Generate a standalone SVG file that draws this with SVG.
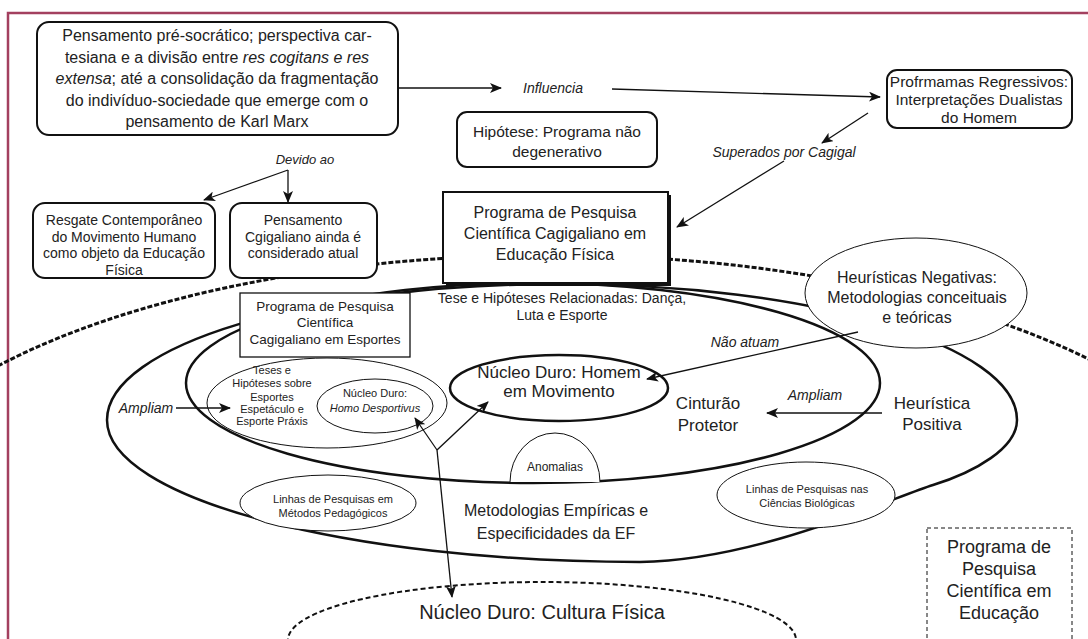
<svg xmlns="http://www.w3.org/2000/svg" width="1088" height="639" viewBox="0 0 1088 639">
<defs>
<marker id="ah" viewBox="0 0 12 10" refX="11" refY="5" markerWidth="12" markerHeight="10" orient="auto" markerUnits="userSpaceOnUse"><path d="M0,0 L12,5 L0,10 L3,5 z" fill="#111"/></marker>
<style>
text{font-family:"Liberation Sans",Arial,sans-serif;fill:#222;text-anchor:middle}
.it{font-style:italic}
.rb{fill:#fff;stroke:#111;stroke-width:2}
.thin{fill:#fff;stroke:#111;stroke-width:1}
.thick{fill:none;stroke:#111;stroke-width:2.5}
.con{fill:none;stroke:#111;stroke-width:1.3}
</style>
</defs>
<rect width="1088" height="639" fill="#fff"/>
<path d="M8,639 V13 H1088" fill="none" stroke="#a3405f" stroke-width="2.5"/>

<g id="dashed-arc"><ellipse cx="550" cy="543" rx="700" ry="288" fill="none" stroke="#111" stroke-width="3" stroke-dasharray="5 2"/></g>

<g id="cultura-fisica"><ellipse cx="542" cy="640" rx="254" ry="58" fill="none" stroke="#111" stroke-width="2" stroke-dasharray="5 3"/>
<text x="542" y="619" font-size="20">Núcleo Duro: Cultura Física</text></g>

<g id="metodologias-empiricas">
<path class="thick" d="M107,420 C107,345 310,284 560,284 C812,284 1017,345 1017,420 C1017,448 975,472 933,485 C891,498 760,560 640,562 C346,562 107,498 107,420 Z"/>
<text x="556" y="516" font-size="16">Metodologias Empíricas e</text>
<text x="556" y="539" font-size="16">Especificidades da EF</text>
</g>

<g id="cinturao-protetor">
<ellipse class="thick" cx="533" cy="383" rx="347" ry="100"/>
<text x="708" y="409" font-size="17">Cinturão</text>
<text x="708" y="431" font-size="17">Protetor</text>
<text x="562" y="303" font-size="14">Tese e Hipóteses Relacionadas: Dança,</text>
<text x="562" y="320" font-size="14">Luta e Esporte</text>
</g>

<g id="anomalias"><path class="thin" d="M510,482 A45 49 0 0 1 600,482"/>
<text x="555" y="471" font-size="12">Anomalias</text></g>

<g id="linhas-metodos"><ellipse class="thin" cx="328" cy="503" rx="88" ry="28"/>
<text x="333" y="503" font-size="11">Linhas de Pesquisas em</text>
<text x="333" y="517" font-size="11">Métodos Pedagógicos</text></g>

<g id="linhas-bio"><ellipse class="thin" cx="806" cy="495" rx="89" ry="33"/>
<text x="807" y="493" font-size="11">Linhas de Pesquisas nas</text>
<text x="807" y="507" font-size="11">Ciências Biológicas</text></g>

<g id="teses-esportes"><ellipse class="thin" cx="327" cy="403" rx="120" ry="45"/>
<text x="272" y="374" font-size="11">Teses e</text>
<text x="272" y="387" font-size="11">Hipóteses sobre</text>
<text x="272" y="401" font-size="11">Esportes</text>
<text x="272" y="413" font-size="11">Espetáculo e</text>
<text x="272" y="425" font-size="11">Esporte Práxis</text></g>

<g id="homo-desportivus"><ellipse class="thin" cx="375" cy="406" rx="58" ry="27"/>
<text x="375" y="397" font-size="11">Núcleo Duro:</text>
<text x="375" y="412" font-size="11" class="it">Homo Desportivus</text></g>

<g id="nucleo-homem"><ellipse cx="559" cy="388" rx="109" ry="33" fill="#fff" stroke="#111" stroke-width="2.5"/>
<text x="559" y="378" font-size="17">Núcleo Duro: Homem</text>
<text x="559" y="397" font-size="17">em Movimento</text></g>

<g id="heuristicas-negativas"><ellipse class="thin" cx="916" cy="293" rx="111" ry="55"/>
<text x="917" y="283" font-size="16">Heurísticas Negativas:</text>
<text x="917" y="303" font-size="16">Metodologias conceituais</text>
<text x="917" y="323" font-size="16">e teóricas</text></g>

<g id="heuristica-positiva">
<text x="932" y="409" font-size="17">Heurística</text>
<text x="932" y="430" font-size="17">Positiva</text></g>

<g id="programa-esportes"><rect x="240" y="293" width="170" height="64" fill="#fff" stroke="#111" stroke-width="1.3"/>
<text x="325" y="311" font-size="13.5">Programa de Pesquisa</text>
<text x="325" y="327" font-size="13.5">Científica</text>
<text x="325" y="344" font-size="13.5">Cagigaliano em Esportes</text></g>

<g id="programa-ef"><rect x="446" y="195" width="225" height="91" fill="#111"/>
<rect x="443" y="192" width="225" height="91" fill="#fff" stroke="#111" stroke-width="2"/>
<text x="555" y="218" font-size="16">Programa de Pesquisa</text>
<text x="555" y="239" font-size="16">Científica Cagigaliano em</text>
<text x="555" y="260" font-size="16">Educação Física</text></g>

<g id="pensamento-pre-socratico"><rect class="rb" x="37" y="22" width="361" height="113" rx="12"/>
<text x="217" y="41" font-size="16">Pensamento pré-socrático; perspectiva car-</text>
<text x="217" y="62.5" font-size="16">tesiana e a divisão entre <tspan class="it">res cogitans e res</tspan></text>
<text x="217" y="84" font-size="16"><tspan class="it">extensa</tspan>; até a consolidação da fragmentação</text>
<text x="217" y="105.5" font-size="16">do indivíduo-sociedade que emerge com o</text>
<text x="217" y="127" font-size="16">pensamento de Karl Marx</text></g>

<g id="programas-regressivos"><rect class="rb" x="887" y="70" width="185" height="58" rx="10"/>
<text x="979" y="87" font-size="15.5">Profrmamas Regressivos:</text>
<text x="979" y="105" font-size="15.5">Interpretações Dualistas</text>
<text x="979" y="123" font-size="15.5">do Homem</text></g>

<g id="hipotese"><rect class="rb" x="457" y="112" width="200" height="55" rx="10"/>
<text x="557" y="137" font-size="15.5">Hipótese: Programa não</text>
<text x="557" y="157" font-size="15.5">degenerativo</text></g>

<g id="resgate"><rect class="rb" x="33" y="203" width="182" height="75" rx="12"/>
<text x="124" y="225" font-size="14">Resgate Contemporâneo</text>
<text x="124" y="242" font-size="14">do Movimento Humano</text>
<text x="124" y="258" font-size="14">como objeto da Educação</text>
<text x="124" y="275" font-size="14">Física</text></g>

<g id="pensamento-cagigaliano"><rect class="rb" x="230" y="203" width="147" height="75" rx="12"/>
<text x="303" y="225" font-size="14">Pensamento</text>
<text x="303" y="242" font-size="14">Cgigaliano ainda é</text>
<text x="303" y="258" font-size="14">considerado atual</text></g>

<g id="programa-educacao"><rect x="927" y="528" width="145" height="120" fill="none" stroke="#111" stroke-width="1" stroke-dasharray="4 3"/>
<text x="999" y="553" font-size="18">Programa de</text>
<text x="999" y="575" font-size="18">Pesquisa</text>
<text x="999" y="597" font-size="18">Científica em</text>
<text x="999" y="619" font-size="18">Educação</text></g>

<g id="connectors">
<path class="con" d="M398,88 H501" marker-end="url(#ah)"/>
<text x="553" y="93" font-size="14" class="it">Influencia</text>
<path class="con" d="M612,89 L880,97" marker-end="url(#ah)"/>
<path class="con" d="M868,113 L822,143" marker-end="url(#ah)"/>
<text x="784" y="157" font-size="14" class="it">Superados por Cagigal</text>
<path class="con" d="M784,161 L677,227" marker-end="url(#ah)"/>
<text x="305" y="164" font-size="13" class="it">Devido ao</text>
<path class="con" d="M288,170 V202" marker-end="url(#ah)"/>
<path class="con" d="M288,170 L204,200" marker-end="url(#ah)"/>
<path class="con" d="M858,332 L647,379" marker-end="url(#ah)"/>
<text x="745" y="347" font-size="14" class="it">Não atuam</text>
<path class="con" d="M882,413 H767" marker-end="url(#ah)"/>
<text x="815" y="400" font-size="14" class="it">Ampliam</text>
<path class="con" d="M176,408 H230" marker-end="url(#ah)"/>
<text x="146" y="413" font-size="14" class="it">Ampliam</text>
<path class="con" d="M437,450 L415,418" marker-end="url(#ah)"/>
<path class="con" d="M437,450 L488,402" marker-end="url(#ah)"/>
<path class="con" d="M437,450 L452,597" marker-end="url(#ah)"/>
</g>
</svg>
